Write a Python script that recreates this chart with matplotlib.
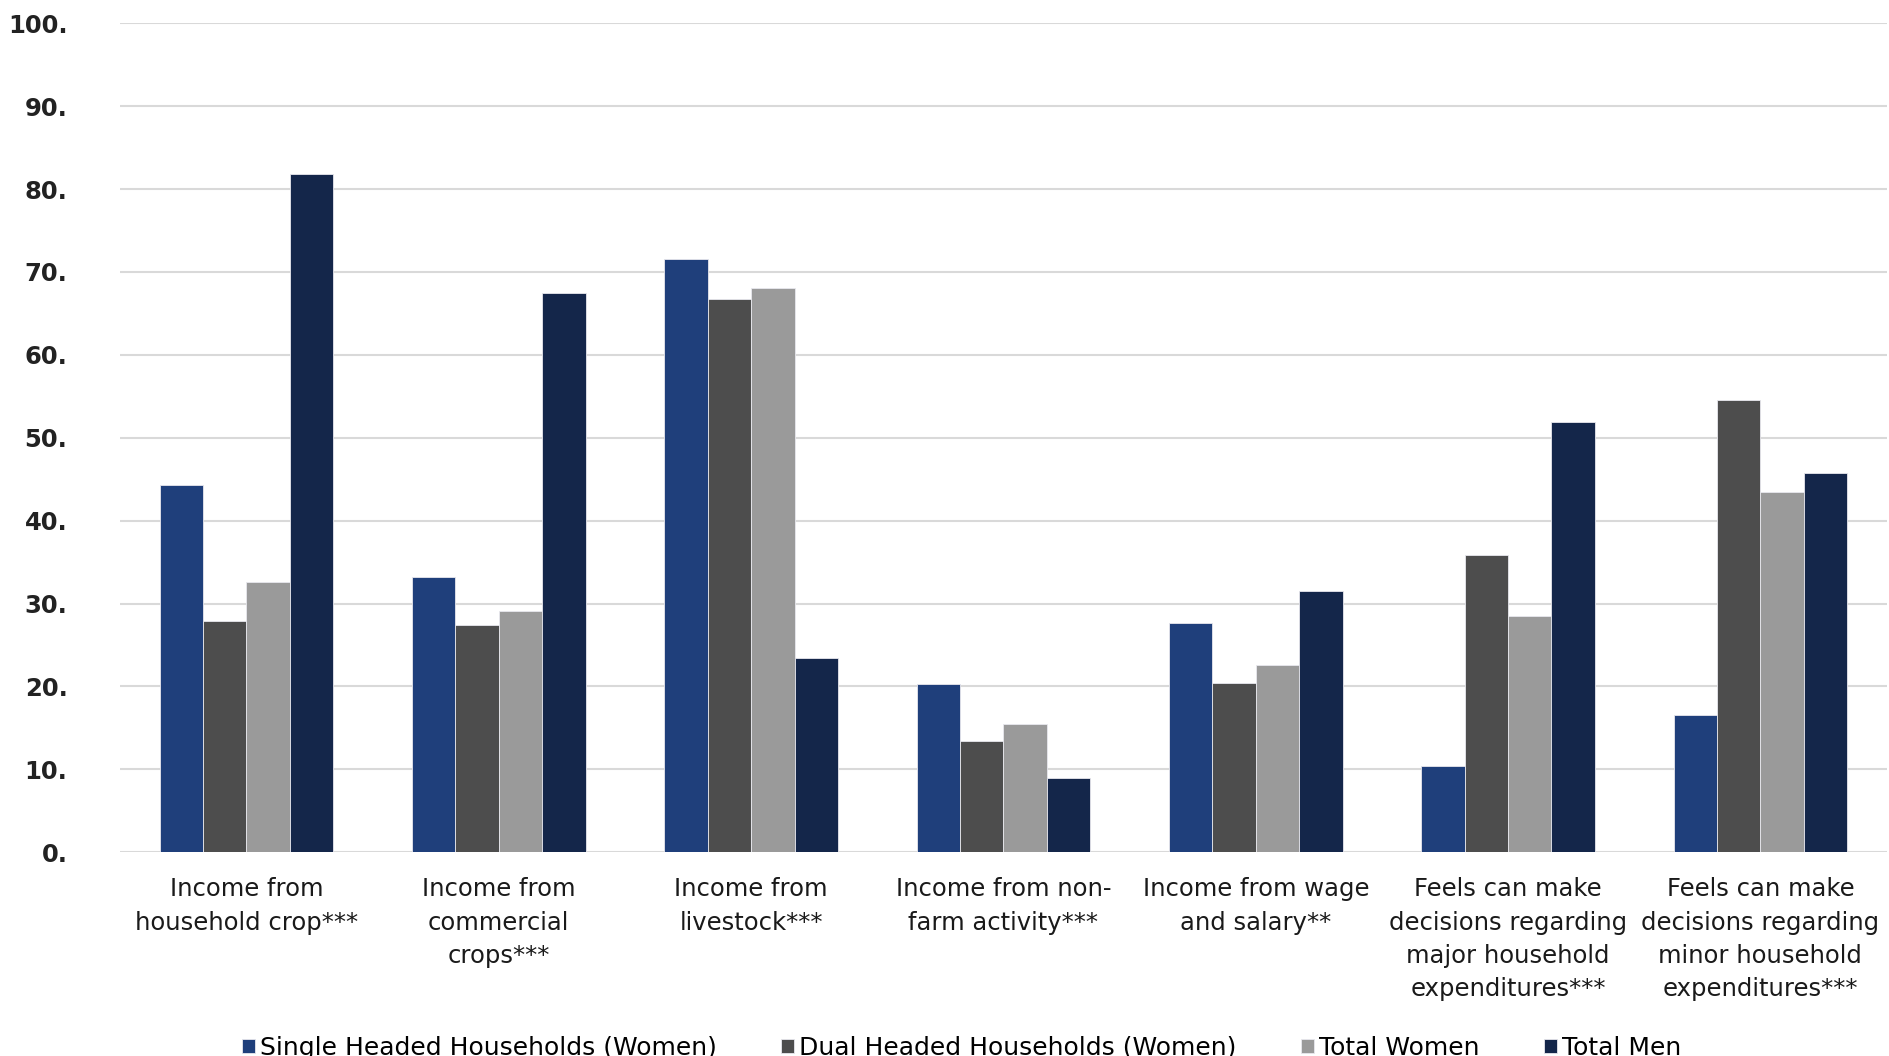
import numpy as np
import matplotlib
matplotlib.use("Agg")
import matplotlib.pyplot as plt

# ==== Dados ====
categories = [
    "Income from\nhousehold crop***",
    "Income from\ncommercial\ncrops***",
    "Income from\nlivestock***",
    "Income from non-\nfarm activity***",
    "Income from wage\nand salary**",
    "Feels can make\ndecisions regarding\nmajor household\nexpenditures***",
    "Feels can make\ndecisions regarding\nminor household\nexpenditures***",
]
series_names = [
    "Single Headed Households (Women)",
    "Dual Headed Households (Women)",
    "Total Women",
    "Total Men",
]
single_women = [44.3, 33.2, 71.6, 20.3, 27.7, 10.4, 16.6]
dual_women = [27.9, 27.4, 66.7, 13.4, 20.4, 35.8, 54.5]
total_women = [32.6, 29.1, 68.1, 15.5, 22.6, 28.5, 43.5]
total_men = [81.8, 67.4, 23.4, 8.9, 31.5, 51.9, 45.8]
y_ticks = [0, 10, 20, 30, 40, 50, 60, 70, 80, 90, 100]
y_tick_labels = [f"{v}." for v in y_ticks]

colors = ["#1F3F7B", "#4D4D4D", "#9A9A9A", "#14264A"]

# ==== Gráfico ====
fig = plt.figure(figsize=(18.89, 10.56), dpi=100)
ax = fig.add_axes([0.0637, 0.193, 0.935, 0.785])

x = np.arange(len(categories))
width = 0.172
all_series = [single_women, dual_women, total_women, total_men]
for i, (vals, name, c) in enumerate(zip(all_series, series_names, colors)):
    ax.bar(x + (i - 1.5) * width, vals, width, color=c, label=name,
           edgecolor="#E8E8EE", linewidth=0.6, zorder=3)

ax.set_xlim(-0.5, len(categories) - 0.5)
ax.set_ylim(0, 100)
ax.set_yticks(y_ticks)
ax.set_yticklabels(y_tick_labels, fontsize=17.5, fontweight="bold", color="#222222")
ax.set_xticks(x)
ax.set_xticklabels(categories, fontsize=17.5, color="#1a1a1a", linespacing=1.49,
                   va="top")
ax.tick_params(axis="both", length=0)
ax.tick_params(axis="x", pad=18)
ax.tick_params(axis="y", pad=38)
ax.grid(True, axis="y", color="#D9D9D9", linewidth=1.5, zorder=0)
for s in ax.spines.values():
    s.set_visible(False)

fig.legend(loc="center", bbox_to_anchor=(0.509, 0.008), ncol=4, frameon=False,
           fontsize=18, handlelength=0.5, handleheight=0.5, handletextpad=0.2,
           columnspacing=2.6)

fig.savefig("out.png", dpi=100)
